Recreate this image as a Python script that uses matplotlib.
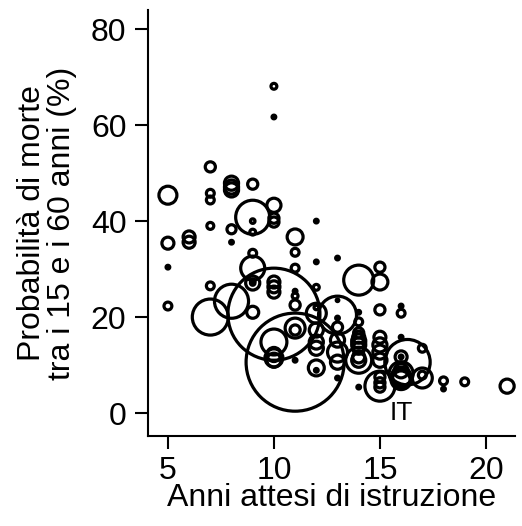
import matplotlib
matplotlib.use("Agg")
import matplotlib.pyplot as plt
import numpy as np

plt.rcParams["font.family"] = ["Liberation Sans", "DejaVu Sans"]

# Expected years of schooling, adult mortality (15-60, %), population (millions)
anni = [
    5, 5, 5, 5,
    6, 6,
    7, 7, 7, 7, 7, 7,
    8, 8, 8, 8, 8, 8,
    9, 9, 9, 9, 9, 9, 9, 9, 9, 9,
    10, 10, 10, 10, 10, 10, 10, 10, 10, 10, 10, 10, 10,
    11, 11, 11, 11, 11, 11, 11, 11, 11, 11,
    12, 12, 12, 12, 12, 12, 12, 12, 12, 12,
    13, 13, 13, 13, 13, 13, 13, 13, 13,
    14, 14, 14, 14, 14, 14, 14, 14, 14, 14, 14, 14,
    15, 15, 15, 15, 15, 15, 15, 15, 15, 15, 15,
    16, 16, 16, 16, 16, 16.3, 16, 16, 16, 16, 16,
    17, 17, 17,
    18, 18,
    19,
    21,
]
mortalita = [
    45.4, 35.4, 30.4, 22.3,
    36.7, 35.6,
    51.3, 45.8, 44.4, 39.0, 26.5, 20.0,
    47.9, 47.1, 46.5, 38.3, 35.6, 23.3,
    47.7, 40.8, 40.0, 37.7, 33.3, 30.2, 27.5, 27.1, 21.0, 27.1,
    68.1, 61.7, 43.3, 40.6, 39.8, 27.3, 26.3, 25.2, 20.6, 14.8, 11.5, 12.2, 11.0,
    36.7, 33.5, 30.2, 25.4, 24.4, 22.5, 17.7, 17.3, 11.0, 10.6,
    40.0, 31.5, 26.2, 20.8, 17.3, 14.8, 13.5, 9.4, 8.9, 22.0,
    32.3, 23.5, 20.4, 19.8, 17.9, 12.7, 15.2, 10.6, 7.3,
    27.7, 21.0, 19.0, 16.7, 15.8, 15.0, 14.2, 11.0, 11.0, 11.7, 5.4, 13.5,
    30.4, 27.3, 21.5, 15.8, 14.2, 12.7, 11.0, 7.5, 6.3, 5.4, 5.6,
    22.3, 20.8, 15.8, 11.7, 11.7, 10.6, 8.2, 7.5, 6.9, 8.8, 7.0,
    13.5, 7.3, 7.9,
    6.7, 5.0,
    6.5,
    5.6,
]
popolazione = [
    47, 21, 2, 9,
    21, 21,
    15, 9, 9, 7, 9, 189,
    29, 29, 29, 12, 2, 169,
    15, 169, 3, 5, 9, 84, 3, 29, 21, 3,
    5, 2, 29, 15, 15, 21, 21, 21, 1234, 98, 47, 29, 29,
    37, 9, 9, 2, 5, 15, 58, 15, 2, 1400,
    2, 2, 5, 58, 29, 29, 29, 37, 2, 3,
    2, 1, 210, 2, 15, 58, 29, 29, 2,
    131, 2, 9, 15, 21, 29, 29, 98, 29, 21, 2, 21,
    15, 37, 15, 21, 29, 29, 29, 15, 15, 15, 131,
    2, 9, 2, 21, 2, 300, 84, 58, 47, 29, 60,
    9, 58, 9,
    9, 2,
    9,
    29,
]

etichetta = "IT"
italia = (16, 7.0)

fig = plt.figure(figsize=(5.22, 5.26), dpi=100)
ax = fig.add_axes([0.2835, 0.171, 0.703, 0.81])

pop = np.array(popolazione, dtype=float)
ax.scatter(anni, mortalita, s=pop * 3.56, facecolors="none",
           edgecolors="black", linewidths=2.3, clip_on=False)

ax.annotate(etichetta, xy=italia, xytext=(0, -24), textcoords="offset points",
            ha="center", va="center", fontsize=19)

ax.set_xlim(4.06, 21.37)
ax.set_ylim(-4.8, 84)
ax.set_xticks([5, 10, 15, 20])
ax.set_yticks([0, 20, 40, 60, 80])

for side in ("top", "right"):
    ax.spines[side].set_visible(False)
for side in ("left", "bottom"):
    ax.spines[side].set_linewidth(1.5)

ax.tick_params(axis="both", direction="out", length=9.5, width=1.5,
               labelsize=23)
ax.tick_params(axis="x", pad=5)
ax.tick_params(axis="y", pad=6)

ax.set_xlabel("Anni attesi di istruzione", fontsize=23, labelpad=-2)
ax.set_ylabel("Probabilità di morte\ntra i 15 e i 60 anni (%)", fontsize=23,
              labelpad=10, linespacing=1.0)

fig.savefig("out.png", dpi=100)
